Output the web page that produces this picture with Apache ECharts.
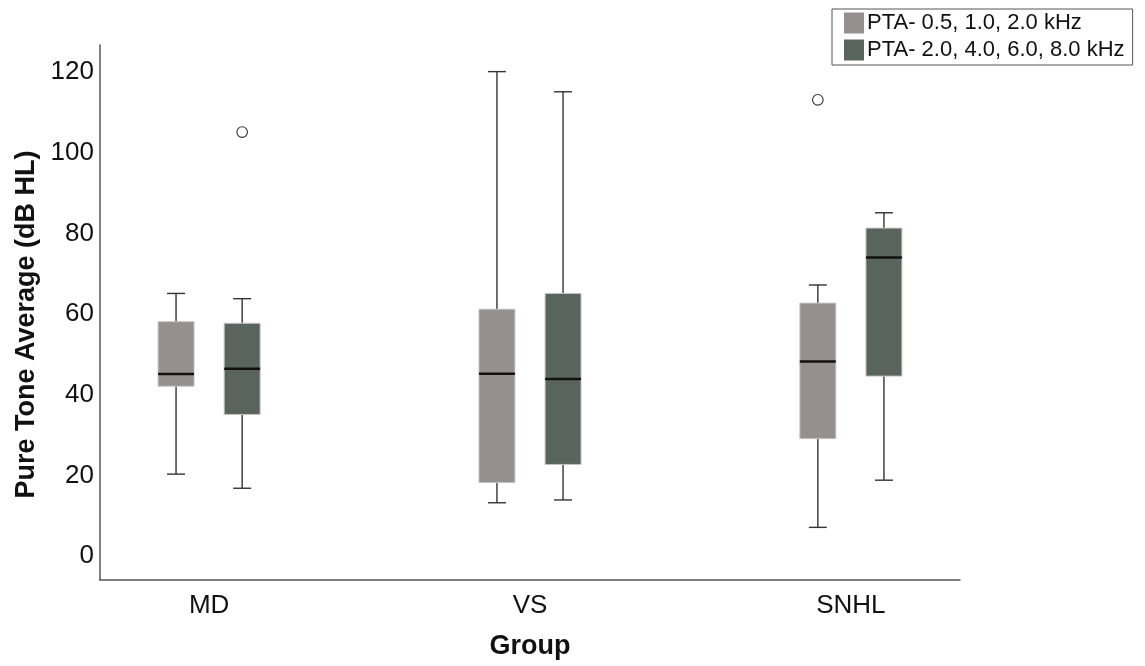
<!DOCTYPE html>
<html>
<head>
<meta charset="utf-8">
<script src="https://cdn.jsdelivr.net/npm/echarts@6/dist/echarts.min.js"></script>
<style>
html,body{margin:0;padding:0;background:#fff;}
#chart{width:1145px;height:666px;}
</style>
</head>
<body>
<div id="chart"></div>
<script>
// ---- data ----
const categories = ['MD', 'VS', 'SNHL'];
const seriesNames = ['PTA- 0.5, 1.0, 2.0 kHz', 'PTA- 2.0, 4.0, 6.0, 8.0 kHz'];
// [lower whisker, Q1, median, Q3, upper whisker] per group
const lowFreqBoxes = [
  [20.3, 42.1, 45.1, 58.1, 65.1],
  [13.2, 18.2, 45.2, 61.2, 120.1],
  [7.1, 29.1, 48.2, 62.7, 67.2]
];
const highFreqBoxes = [
  [16.8, 35.1, 46.4, 57.7, 63.8],
  [13.9, 22.7, 43.9, 65.1, 115.1],
  [18.8, 44.6, 74.0, 81.3, 85.1]
];
// outliers: [group index, value]
const lowFreqOutliers = [[2, 113.1]];
const highFreqOutliers = [[0, 105.1]];
const yTickValues = [0, 20, 40, 60, 80, 100, 120];
const xTickValues = [0, 1, 2];

const colors = ['#958f8d', '#5a645f'];

const chart = echarts.init(document.getElementById('chart'), null, {renderer: 'canvas'});

function boxRender(side) {
  return function (params, api) {
    const idx = api.value(0);
    const unit = api.size([1, 0])[0];
    const cx = api.coord([idx, 0])[0] + side * unit * 0.103;
    const half = unit * 0.056;
    const capHalf = unit * 0.028;
    const yLo = api.coord([idx, api.value(1)])[1];
    const yQ1 = api.coord([idx, api.value(2)])[1];
    const yMed = api.coord([idx, api.value(3)])[1];
    const yQ3 = api.coord([idx, api.value(4)])[1];
    const yHi = api.coord([idx, api.value(5)])[1];
    const wStyle = {stroke: '#333', lineWidth: 1.4};
    return {
      type: 'group',
      children: [
        {type: 'line', shape: {x1: cx, y1: yLo, x2: cx, y2: yQ1}, style: wStyle},
        {type: 'line', shape: {x1: cx, y1: yQ3, x2: cx, y2: yHi}, style: wStyle},
        {type: 'line', shape: {x1: cx - capHalf, y1: yLo, x2: cx + capHalf, y2: yLo}, style: wStyle},
        {type: 'line', shape: {x1: cx - capHalf, y1: yHi, x2: cx + capHalf, y2: yHi}, style: wStyle},
        {type: 'rect', shape: {x: cx - half, y: yQ3, width: half * 2, height: yQ1 - yQ3},
          style: {fill: colors[side < 0 ? 0 : 1], stroke: '#c4c4c4', lineWidth: 1}},
        {type: 'line', shape: {x1: cx - half, y1: yMed, x2: cx + half, y2: yMed},
          style: {stroke: '#111', lineWidth: 2.5}}
      ]
    };
  };
}

function outlierRender(side) {
  return function (params, api) {
    const idx = api.value(0);
    const unit = api.size([1, 0])[0];
    const cx = api.coord([idx, 0])[0] + side * unit * 0.103;
    const cy = api.coord([idx, api.value(1)])[1];
    return {type: 'circle', shape: {cx: cx, cy: cy, r: 5.3},
      style: {fill: '#fff', stroke: '#333', lineWidth: 1.1}};
  };
}

const option = {
  backgroundColor: '#fff',
  animation: false,
  textStyle: {fontFamily: 'Liberation Sans, Arial, sans-serif'},
  grid: {left: 100, right: 185, top: 45, bottom: 86, containLabel: false},
  legend: {
    data: seriesNames,
    orient: 'vertical',
    left: 832, top: 9,
    icon: 'rect',
    itemWidth: 20, itemHeight: 21, itemGap: 5,
    padding: [3, 8, 4, 12],
    borderColor: '#555', borderWidth: 1,
    textStyle: {fontSize: 22, color: '#111', fontFamily: 'Liberation Sans, Arial, sans-serif', padding: [0, 0, 0, -2]}
  },
  xAxis: {
    type: 'value',
    min: -0.34, max: 2.34,
    name: 'Group',
    nameLocation: 'middle',
    nameGap: 53,
    nameTextStyle: {fontSize: 27, fontWeight: 'bold', color: '#111'},
    axisLine: {show: true, onZero: false, lineStyle: {color: '#555', width: 1.5}},
    axisTick: {show: false},
    splitLine: {show: false},
    axisLabel: {
      customValues: xTickValues,
      formatter: function (v) { return categories[Math.round(v)]; },
      fontSize: 26, color: '#111', margin: 13
    }
  },
  yAxis: {
    type: 'value',
    min: -5.95, max: 126.7,
    name: 'Pure Tone Average (dB HL)',
    nameLocation: 'middle',
    nameGap: 55,
    nameTextStyle: {fontSize: 27, fontWeight: 'bold', color: '#111', padding: [0, 0, 0, -24]},
    axisLine: {show: true, onZero: false, lineStyle: {color: '#555', width: 1.5}},
    axisTick: {show: false},
    splitLine: {show: false},
    axisLabel: {customValues: yTickValues, fontSize: 26, color: '#111', margin: 6}
  },
  series: [
    {
      name: seriesNames[0], type: 'custom',
      itemStyle: {color: colors[0]},
      renderItem: boxRender(-1),
      encode: {x: 0, y: [1, 2, 3, 4, 5]},
      data: lowFreqBoxes.map((b, i) => [i].concat(b)),
      z: 2
    },
    {
      name: seriesNames[1], type: 'custom',
      itemStyle: {color: colors[1]},
      renderItem: boxRender(1),
      encode: {x: 0, y: [1, 2, 3, 4, 5]},
      data: highFreqBoxes.map((b, i) => [i].concat(b)),
      z: 2
    },
    {
      name: 'out1', type: 'custom',
      renderItem: outlierRender(-1),
      encode: {x: 0, y: 1},
      data: lowFreqOutliers,
      z: 3
    },
    {
      name: 'out2', type: 'custom',
      renderItem: outlierRender(1),
      encode: {x: 0, y: 1},
      data: highFreqOutliers,
      z: 3
    }
  ]
};
chart.setOption(option);
</script>
</body>
</html>
